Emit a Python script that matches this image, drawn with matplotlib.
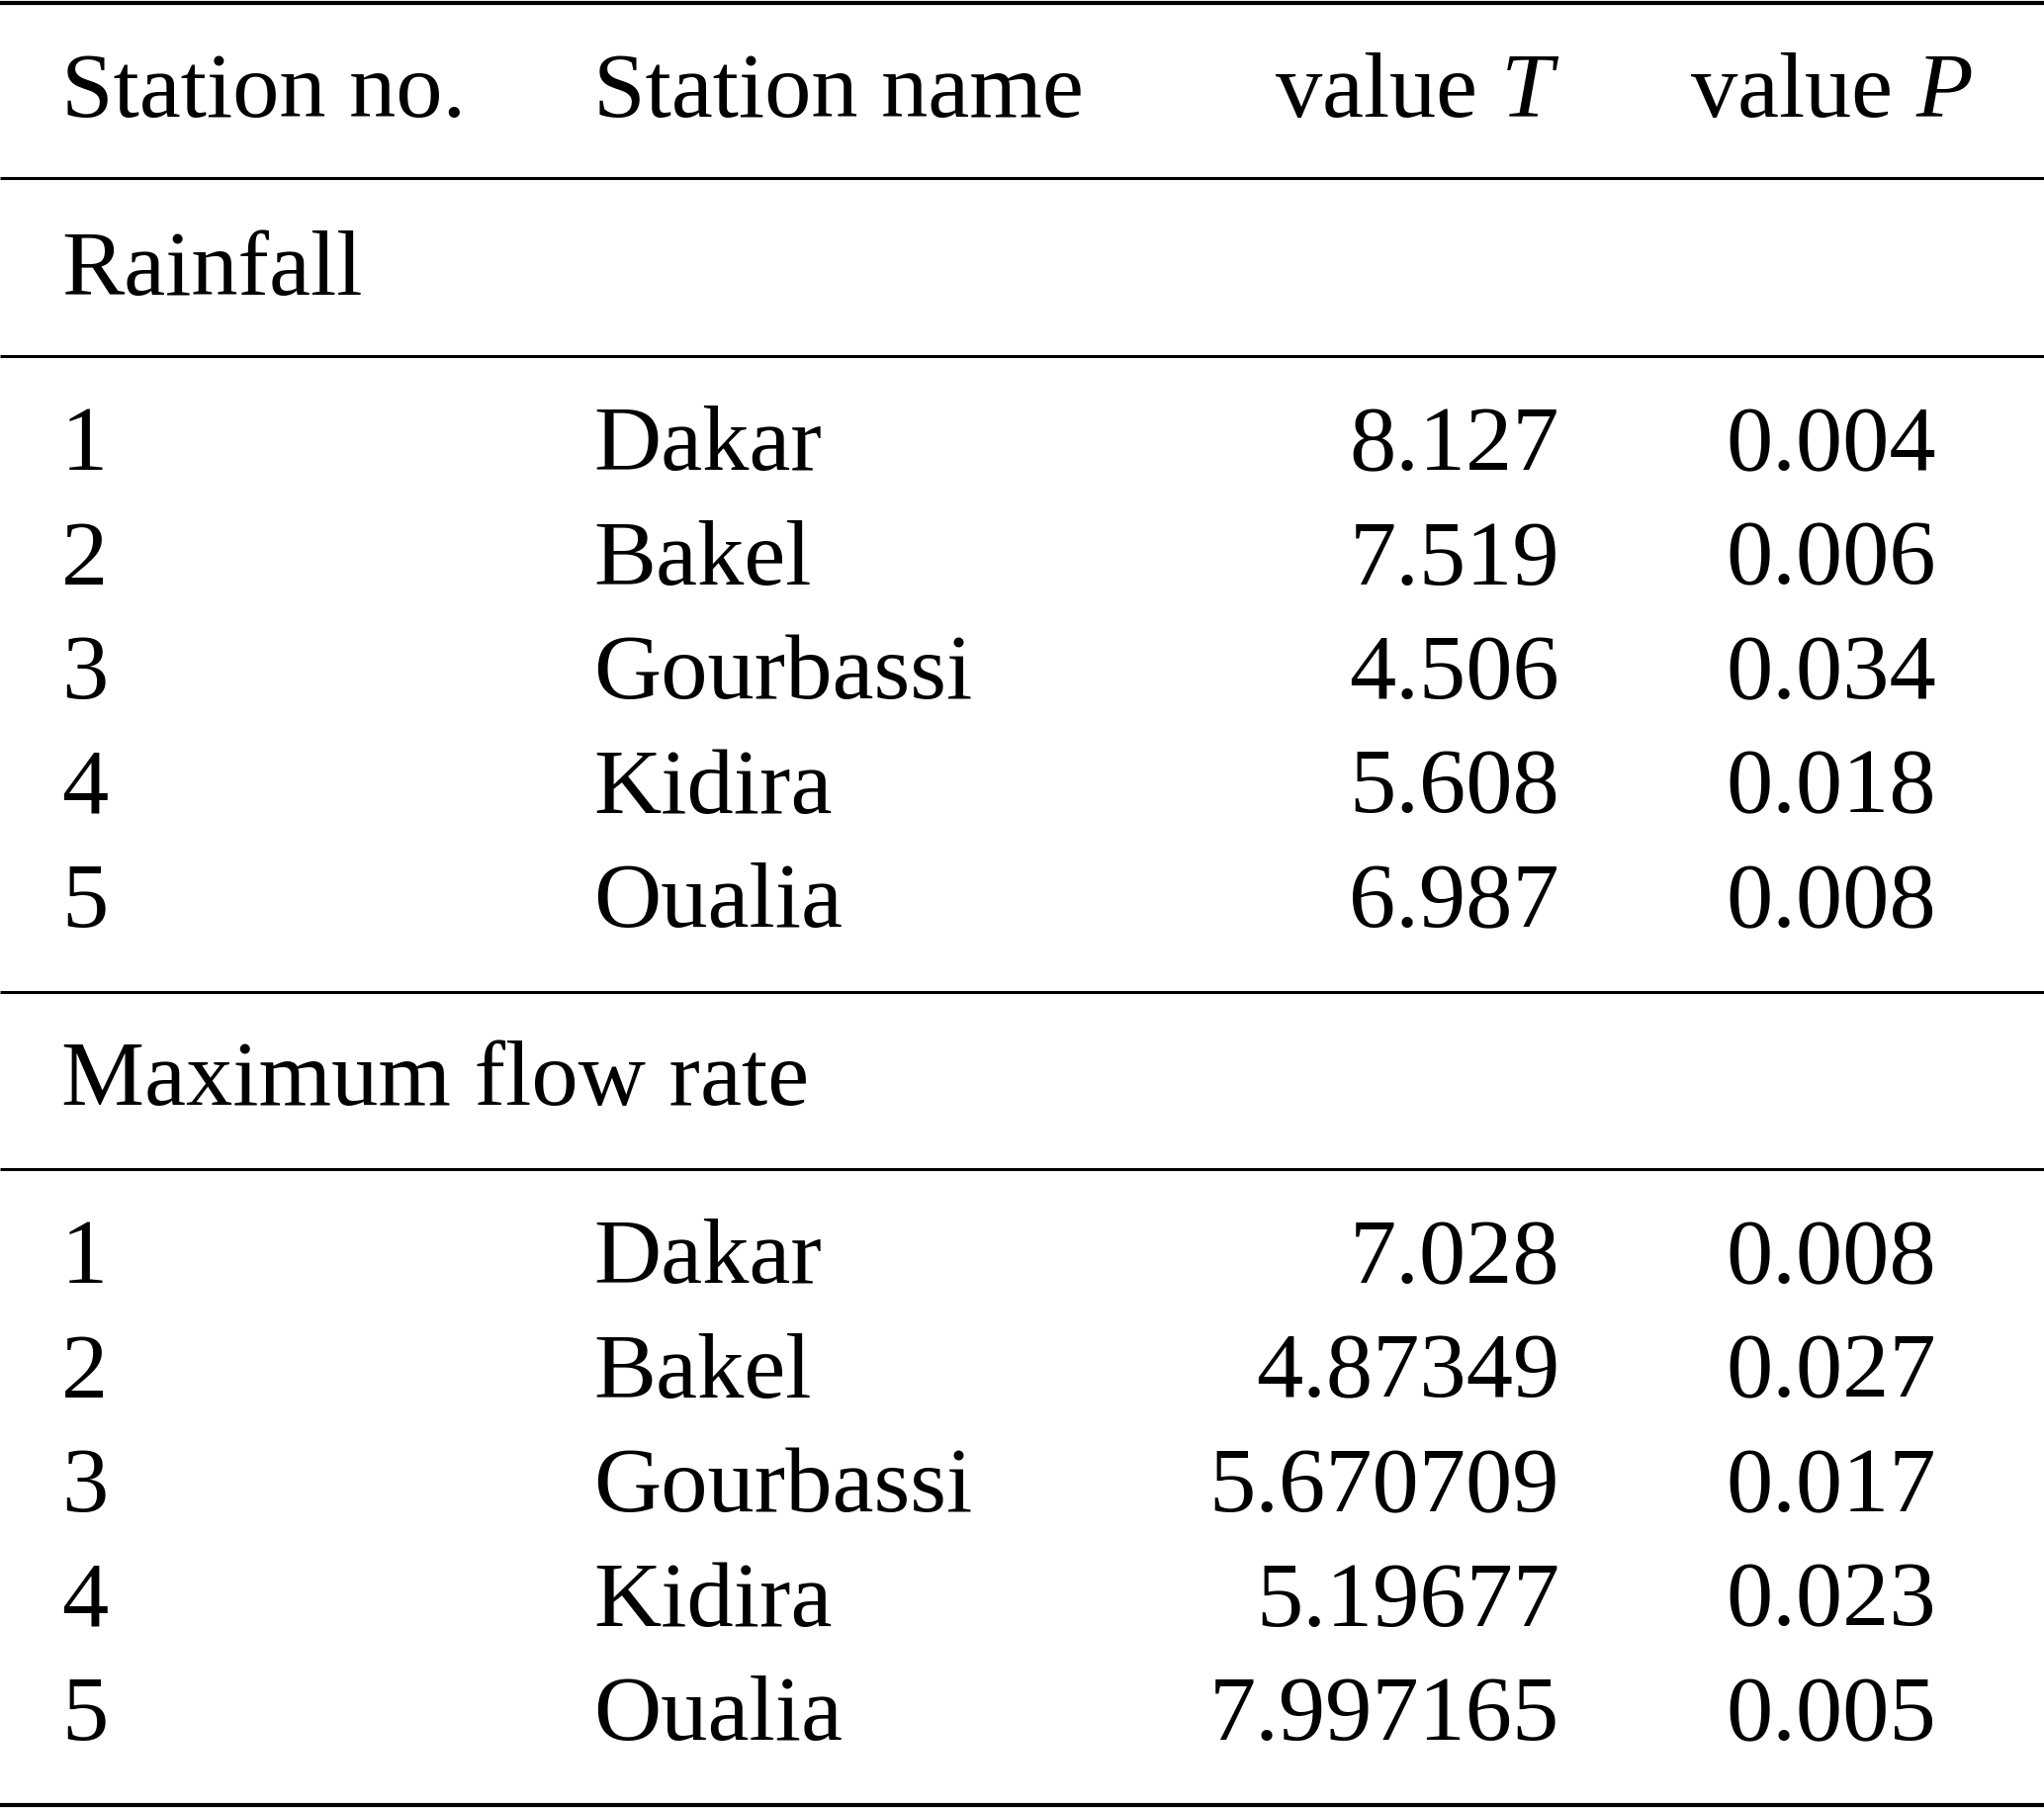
import matplotlib
matplotlib.use('Agg')
import matplotlib.pyplot as plt

plt.rcParams['font.family'] = ['Liberation Serif', 'DejaVu Serif']
plt.rcParams['mathtext.fontset'] = 'custom'
plt.rcParams['mathtext.rm'] = 'Liberation Serif'
plt.rcParams['mathtext.it'] = 'Liberation Serif:italic'

# table data
headers = ['Station no.', 'Station name', 'value $T$', 'value $P$']
station_no = ['1', '2', '3', '4', '5']
station_name = ['Dakar', 'Bakel', 'Gourbassi', 'Kidira', 'Oualia']
rain_T = ['8.127', '7.519', '4.506', '5.608', '6.987']
rain_P = ['0.004', '0.006', '0.034', '0.018', '0.008']
flow_T = ['7.028', '4.87349', '5.670709', '5.19677', '7.997165']
flow_P = ['0.008', '0.027', '0.017', '0.023', '0.005']
sections = ['Rainfall', 'Maximum flow rate']

W, H = 2067, 1828
fig = plt.figure(figsize=(W / 100, H / 100), dpi=100)
ax = fig.add_axes([0, 0, 1, 1])
ax.set_xlim(0, W)
ax.set_ylim(H, 0)
ax.axis('off')

fs = 68
col_x = [62, 600, 1577, 1852]
col_ha = ['left', 'left', 'right', 'center']
row_step = 115.6

def rule(y, lw):
    ax.plot([0, W], [y, y], color='black', lw=lw, solid_capstyle='butt')

def row(y, cells):
    for x, ha, s in zip(col_x, col_ha, cells):
        ax.text(x, y, s, ha=ha, va='baseline', fontsize=fs)

rule(3, 3.0)
row(118, headers)
rule(180, 2.2)

blocks = [(298, 360, 475, rain_T, rain_P), (1117, 1182, 1297, flow_T, flow_P)]
for (sec_y, rule_y, first_y, tvals, pvals), title in zip(blocks, sections):
    ax.text(col_x[0], sec_y, title, ha='left', va='baseline', fontsize=fs)
    rule(rule_y, 2.2)
    for i in range(len(station_no)):
        row(first_y + i * row_step,
            [station_no[i], station_name[i], tvals[i], pvals[i]])

rule(1003, 2.2)
rule(1825, 3.0)

fig.savefig('out.png', dpi=100)
